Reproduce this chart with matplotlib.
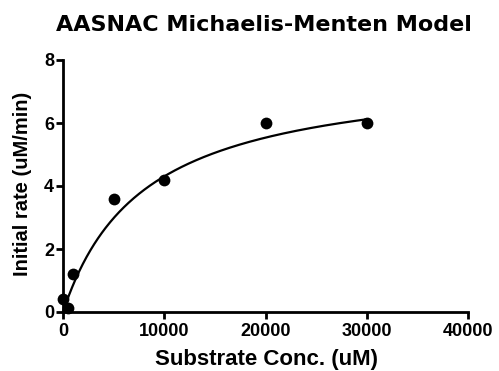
import numpy as np
import matplotlib
matplotlib.use("Agg")
import matplotlib.pyplot as plt

substrate = [0, 500, 1000, 5000, 10000, 20000, 30000]
rate = [0.4, 0.13, 1.2, 3.6, 4.2, 6.0, 6.0]
vmax = 7.75
km = 8000.0

x_ticks = [0, 10000, 20000, 30000, 40000]
y_ticks = [0, 2, 4, 6, 8]

plt.rcParams['font.family'] = ['Liberation Sans', 'DejaVu Sans']
plt.rcParams['font.weight'] = 'bold'

W, H = 499, 371
fig = plt.figure(figsize=(W/100, H/100), dpi=100)
ax = fig.add_axes([63/W, 1-312/H, 405/W, 252/H])

xs = np.linspace(0, max(substrate), 400)
ax.plot(xs, vmax*xs/(km+xs), color='black', lw=1.6, clip_on=False, zorder=2)
ax.scatter(substrate, rate, s=72, color='black', zorder=3, clip_on=False, linewidths=0)

ax.set_xlim(0, 40000)
ax.set_ylim(0, 8)
ax.set_xticks(x_ticks)
ax.set_yticks(y_ticks)
ax.set_xticklabels([str(t) for t in x_ticks])
ax.set_yticklabels([str(t) for t in y_ticks])
for s in ['top', 'right']:
    ax.spines[s].set_visible(False)
for s in ['left', 'bottom']:
    ax.spines[s].set_linewidth(2)
ax.tick_params(direction='out', length=5, width=2, labelsize=13)
ax.tick_params(axis='x', pad=3)
ax.tick_params(axis='y', pad=1.5)
for lbl in ax.get_xticklabels() + ax.get_yticklabels():
    lbl.set_fontweight('bold')

fig.text(266.5/W, 1-365/H, 'Substrate Conc. (uM)', fontsize=16, fontweight='bold',
         ha='center', va='baseline')
fig.text(28/W, 1-183.5/H, 'Initial rate (uM/min)', fontsize=14.5, fontweight='bold',
         ha='center', va='baseline', rotation=90, rotation_mode='anchor')
fig.text(263.5/W, 1-31/H, 'AASNAC Michaelis-Menten Model', fontsize=16, fontweight='bold',
         family=['DejaVu Sans'], ha='center', va='baseline')

fig.savefig('out.png', dpi=100, facecolor='white')
